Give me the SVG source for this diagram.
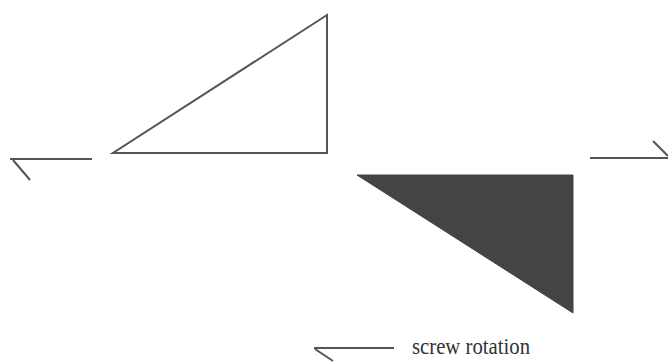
<svg xmlns="http://www.w3.org/2000/svg" width="668" height="362" viewBox="0 0 668 362">
<style>
.ln{stroke:#555;stroke-width:2;fill:none}
.lbl{font-family:"Liberation Serif",serif;font-size:24px;fill:#333}
</style>
<rect width="668" height="362" fill="#fff"/>
<g id="triangle-open"><polygon points="113,153 327,153 327,15" class="ln" stroke-linejoin="miter"/></g>
<g id="triangle-filled"><polygon points="357,175 573,175 573,313" fill="#444" stroke="#444" stroke-width="1"/></g>
<g id="connectors">
<path class="ln" d="M10,159 H92 M13,160 L30,180"/>
<path class="ln" d="M590,158 H668 M653,141 L668,156"/>
<path class="ln" d="M314,348 H394 M315,349 L333,361"/>
</g>
<g id="label"><text class="lbl" x="412" y="354" textLength="118" lengthAdjust="spacingAndGlyphs">screw rotation</text></g>
</svg>
